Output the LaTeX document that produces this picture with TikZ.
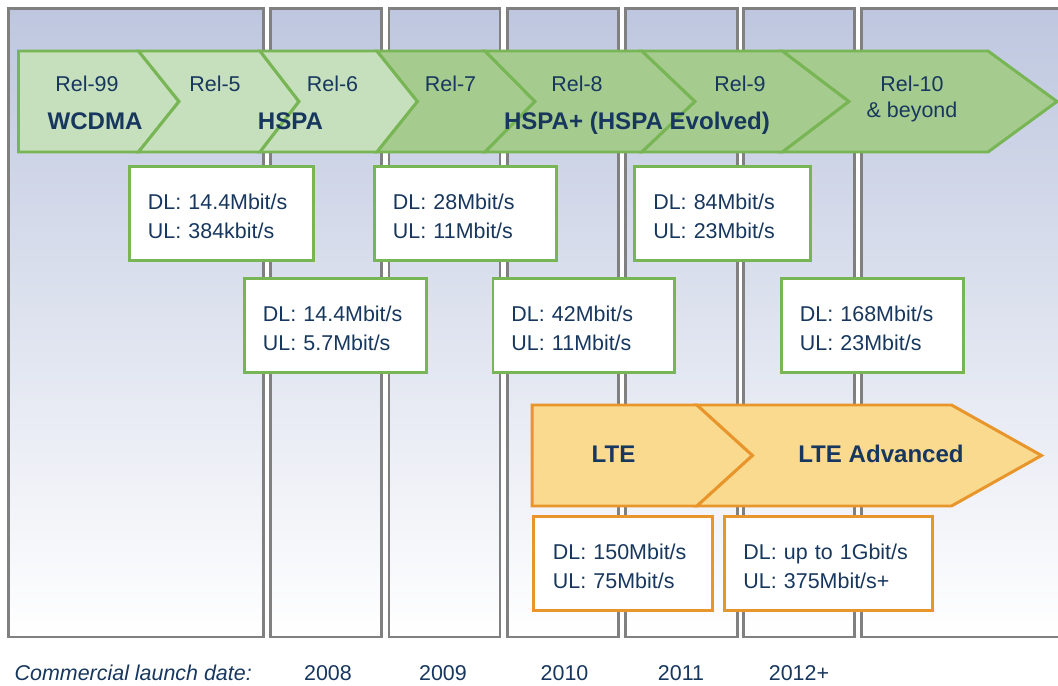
\documentclass[tikz,border=0pt]{standalone}
\usepackage{fontspec}
\setmainfont{Liberation Sans}
\usetikzlibrary{positioning}
\definecolor{navy}{RGB}{23,55,94}
\definecolor{colgray}{RGB}{128,128,128}
\definecolor{colbg}{RGB}{190,199,223}
\definecolor{grnline}{RGB}{120,181,84}
\definecolor{grnlight}{RGB}{198,223,188}
\definecolor{grndark}{RGB}{166,203,142}
\definecolor{orgline}{RGB}{232,150,44}
\definecolor{orgfill}{RGB}{250,218,142}

\begin{document}
\begin{tikzpicture}[
  x=0.02cm, y=-0.02cm,
  yearcol/.style={draw=colgray, line width=1.7pt, top color=colbg, middle color=colbg!50!white, bottom color=white},
  relarrow/.style={draw=grnline, line width=1.7pt},
  ltearrow/.style={draw=orgline, line width=1.7pt, fill=orgfill},
  rel/.style={anchor=base, text=navy, font=\fontsize{12.2}{14}\selectfont},
  tech/.style={anchor=base, text=navy, font=\fontsize{13.7}{16}\selectfont\bfseries},
  ratebox/.style={draw=#1, fill=white, line width=1.7pt, anchor=north west,
    minimum height=1.88cm, inner ysep=0pt, inner xsep=0.37cm,
    text height=0.34cm, text depth=0.48cm, align=left, text width=2.9cm,
    text=navy, font=\fontsize{12.2}{16.5}\selectfont},
  gbox/.style={ratebox=grnline},
  obox/.style={ratebox=orgline}
]

\useasboundingbox (0,0) rectangle (1058,686);
\clip (0,0) rectangle (1058,686);

\foreach \l/\r in {8.5/263.5, 270.5/381.5, 389/500, 507/618, 625/737, 743/854.5, 861/1075}
  \draw[yearcol] (\l,8.5) rectangle (\r,637);

\draw[relarrow, fill=grnlight] (18.5,51) -- (138.5,51) -- (179,101.5) -- (138.5,152) -- (18.5,152) -- cycle;
\foreach \a/\b/\c/\d/\f in {138.5/260/179/299/grnlight, 260/377/299/417.5/grnlight,
    377/485/417.5/535/grndark, 485/642/535/695/grndark,
    642/782.5/695/849/grndark, 782.5/988/849/1057/grndark}
  \draw[relarrow, fill=\f] (\a,51) -- (\b,51) -- (\d,101.5) -- (\b,152) -- (\a,152) -- (\c,101.5) -- cycle;

\node[rel] (r99) at (87,91.5) {Rel-99};
\node[rel] (r5) at (215,91.5) {Rel-5};
\node[rel] (r6) at (332.5,91.5) {Rel-6};
\node[rel] (r7) at (450.5,91.5) {Rel-7};
\node[rel] (r8) at (577,91.5) {Rel-8};
\node[rel] (r9) at (740,91.5) {Rel-9};
\node[rel] (r10) at (912,91.5) {Rel-10};
\node[rel] (beyond) at (912,117.5) {\& beyond};

\node[tech] (wcdma) at (95,130) {WCDMA};
\node[tech] (hspa) at (290.5,130) {HSPA};
\node[tech] (hspaplus) at (637,130) {HSPA+ (HSPA Evolved)};

\draw[ltearrow] (532,405) -- (697,405) -- (752.5,455.5) -- (697,506) -- (532,506) -- cycle;
\draw[ltearrow] (697,405) -- (951.5,405) -- (1041.5,455.5) -- (951.5,506) -- (697,506) -- (752.5,455.5) -- cycle;
\node[tech] (lte) at (613.5,462) {LTE};
\node[tech] (ltea) at (881,462) {LTE Advanced};

\node[gbox, text width=2.94cm] (rate5) at (128,165) {DL: 14.4Mbit/s\\UL: 384kbit/s};
\node[gbox] (rate6) at (243,277) {DL: 14.4Mbit/s\\UL: 5.7Mbit/s};
\node[gbox] (rate7) at (373,165) {DL: 28Mbit/s\\UL: 11Mbit/s};
\node[gbox] (rate8) at (491.5,277) {DL: 42Mbit/s\\UL: 11Mbit/s};
\node[gbox, text width=2.78cm] (rate9) at (633.3,165) {DL: 84Mbit/s\\UL: 23Mbit/s};
\node[gbox] (rate10) at (780,277) {DL: 168Mbit/s\\UL: 23Mbit/s};
\node[obox, inner xsep=0.39cm, text width=2.81cm] (ratelte) at (532,515) {DL: 150Mbit/s\\UL: 75Mbit/s};
\node[obox, inner xsep=0.38cm, text width=3.4cm] (rateltea) at (723,515) {DL: up to 1Gbit/s\\UL: 375Mbit/s+};

\node[rel, anchor=base west, font=\fontsize{12.2}{14}\selectfont\itshape] (launch) at (8.5,680) {Commercial launch date:};
\foreach \x/\yr [count=\i] in {328/2008, 443/2009, 564.5/2010, 681/2011, 799/2012+}
  \node[rel] (year\i) at (\x,680) {\yr};

\end{tikzpicture}
\end{document}
